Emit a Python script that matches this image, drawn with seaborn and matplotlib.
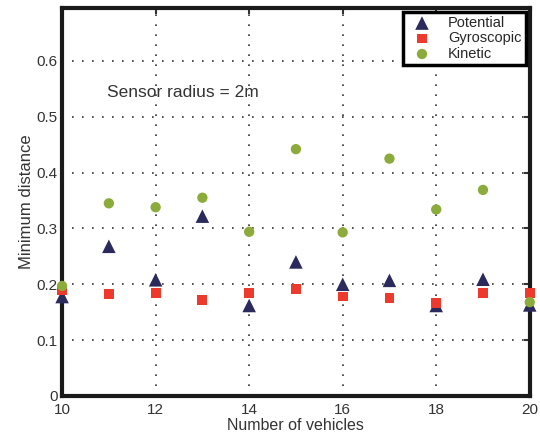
import matplotlib
matplotlib.use("Agg")
import matplotlib.pyplot as plt
import seaborn as sns
import pandas as pd

vehicles = [10, 11, 12, 13, 14, 15, 16, 17, 18, 19, 20]
potential = [0.178, 0.268, 0.208, 0.322, 0.162, 0.240, 0.200, 0.207, 0.162, 0.209, 0.163]
gyroscopic = [0.190, 0.182, 0.185, 0.172, 0.184, 0.192, 0.178, 0.176, 0.167, 0.185, 0.185]
kinetic = [0.197, 0.345, 0.338, 0.355, 0.294, 0.442, 0.293, 0.425, 0.334, 0.369, 0.168]
series_names = ["Potential", "Gyroscopic", "Kinetic"]
x_ticks = [10, 12, 14, 16, 18, 20]
y_ticks = [0, 0.1, 0.2, 0.3, 0.4, 0.5, 0.6]
y_tick_labels = ["0", "0.1", "0.2", "0.3", "0.4", "0.5", "0.6"]

sns.set_style("white")
plt.rcParams['font.family'] = ['Liberation Sans', 'DejaVu Sans']

df = pd.DataFrame({
    "x": vehicles * 3,
    "y": potential + gyroscopic + kinetic,
    "series": [series_names[0]] * len(vehicles) + [series_names[1]] * len(vehicles) + [series_names[2]] * len(vehicles),
})

fig = plt.figure(figsize=(5.4, 4.38), dpi=100)
ax = fig.add_axes([0.115, 0.096, 0.866, 0.886])

colors = {"Potential": "#2b2a5c", "Gyroscopic": "#ee3a2c", "Kinetic": "#8bab3a"}
markers = {"Potential": "^", "Gyroscopic": "s", "Kinetic": "o"}
sizes = {"Potential": 95, "Gyroscopic": 50, "Kinetic": 55}
for name in series_names:
    sub = df[df["series"] == name]
    sns.scatterplot(data=sub, x="x", y="y", ax=ax, color=colors[name], marker=markers[name],
                    s=sizes[name], edgecolor="none", label=name, zorder=3, clip_on=False)

ax.set_xlim(10, 20)
ax.set_ylim(0, 0.695)
ax.set_xticks(x_ticks)
ax.set_yticks(y_ticks)
ax.set_yticklabels(y_tick_labels)
ax.grid(True, linestyle=(0, (1, 5)), color="black", linewidth=1.2, alpha=0.8)
ax.tick_params(direction="in", length=4, width=1.5, labelsize=11, colors="#333333",
               top=True, right=True)
ax.tick_params(axis="x", pad=5)
ax.tick_params(axis="y", pad=3)
for sp in ax.spines.values():
    sp.set_linewidth(3)
    sp.set_color("#1a1a1a")

ax.set_xlabel("Number of vehicles", fontsize=11.5, color="#333333", labelpad=0.5)
ax.set_ylabel("Minimum distance", fontsize=12, color="#333333", labelpad=2)
ax.text(10.95, 0.543, "Sensor radius = 2m", fontsize=12.5, color="#333333", va="center", ha="left")

leg = ax.legend(loc="upper right", fontsize=10.5, frameon=True, fancybox=False,
                borderpad=0.3, labelspacing=0.1, handletextpad=0.8, borderaxespad=0.25)
leg.get_frame().set_edgecolor("black")
leg.get_frame().set_linewidth(2.5)
leg.get_frame().set_alpha(1)

fig.savefig("out.png", dpi=100)
